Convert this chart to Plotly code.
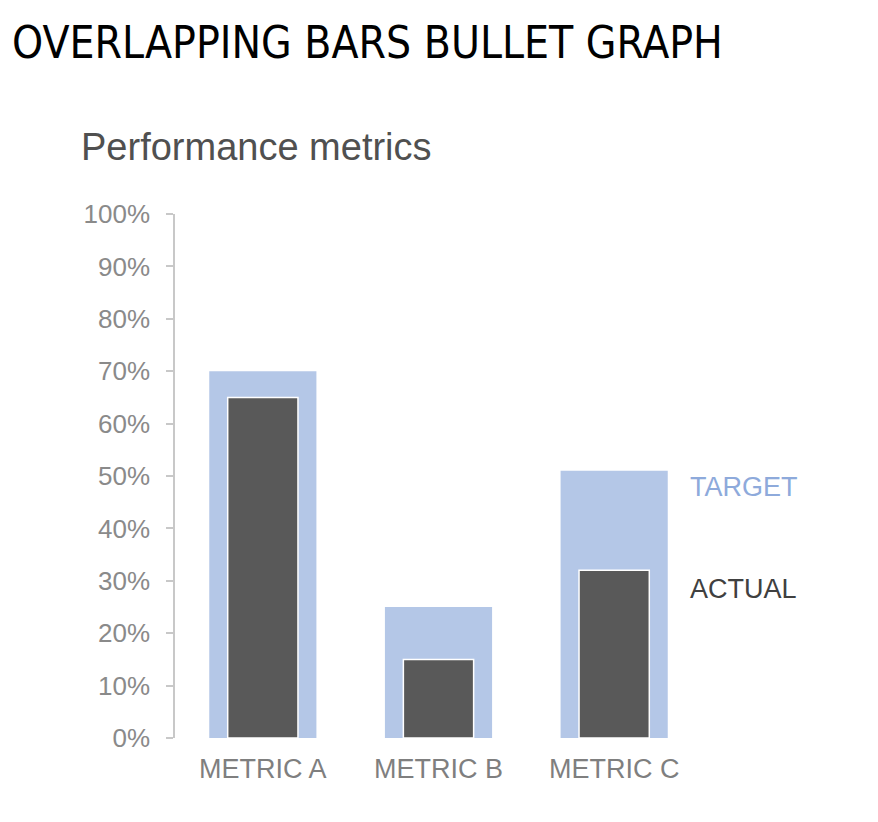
import plotly.graph_objects as go

# values
metrics = ["METRIC A", "METRIC B", "METRIC C"]
target = [0.70, 0.25, 0.51]
actual = [0.65, 0.15, 0.32]
y_ticks = [0, 0.1, 0.2, 0.3, 0.4, 0.5, 0.6, 0.7, 0.8, 0.9, 1.0]
series_names = ["TARGET", "ACTUAL"]

target_color = "#b4c7e7"
actual_color = "#595959"

fig = go.Figure()
fig.add_trace(go.Bar(
    x=metrics, y=target, name=series_names[0],
    width=0.61, marker=dict(color=target_color, line=dict(width=0)),
))
fig.add_trace(go.Bar(
    x=metrics, y=actual, name=series_names[1],
    width=0.40, marker=dict(color=actual_color, line=dict(color="white", width=1.5)),
))

# series labels at the right, next to metric C
fig.add_annotation(x=0.973, y=0.479, xref="paper", yref="paper", text=series_names[0],
                   showarrow=False, xanchor="left", yanchor="middle",
                   font=dict(family="Liberation Sans, Arial", size=27, color="#8eaadb"))
fig.add_annotation(x=0.973, y=0.284, xref="paper", yref="paper", text=series_names[1],
                   showarrow=False, xanchor="left", yanchor="middle",
                   font=dict(family="Liberation Sans, Arial", size=27, color="#404040"))

# chart title
fig.add_annotation(x=-0.183, y=1.128, xref="paper", yref="paper", text="Performance metrics",
                   showarrow=False, xanchor="left", yanchor="middle",
                   font=dict(family="Liberation Sans, Arial", size=38, color="#505050"))

# page has an 8px body margin, so the figure is a bit smaller than the window
fig.update_layout(
    title=dict(text="OVERLAPPING BARS BULLET GRAPH", x=4 / 870, y=1 - 35 / 814,
               xref="container", yref="container", xanchor="left", yanchor="middle",
               font=dict(family="Liberation Sans Narrow, DejaVu Sans Condensed", size=44,
                         color="black")),
    barmode="overlay",
    showlegend=False,
    width=870, height=814,
    margin=dict(l=167, r=176, t=206, b=84),
    plot_bgcolor="white", paper_bgcolor="white",
    font=dict(family="Liberation Sans, Arial"),
)
fig.update_yaxes(
    range=[0, 1], tickvals=y_ticks, tickformat=".0%",
    showgrid=False, zeroline=False,
    showline=True, linecolor="#c8c8c8", linewidth=1.5,
    ticks="outside", ticklen=7, tickcolor="#c8c8c8", tickwidth=1.5,
    tickfont=dict(size=26, color="#8a8a8a"), ticklabelstandoff=11,
)
fig.update_xaxes(
    showgrid=False, showline=False, ticks="",
    tickfont=dict(size=27, color="#7f7f7f"), ticklabelstandoff=12,
)

fig.write_html("out.html")
